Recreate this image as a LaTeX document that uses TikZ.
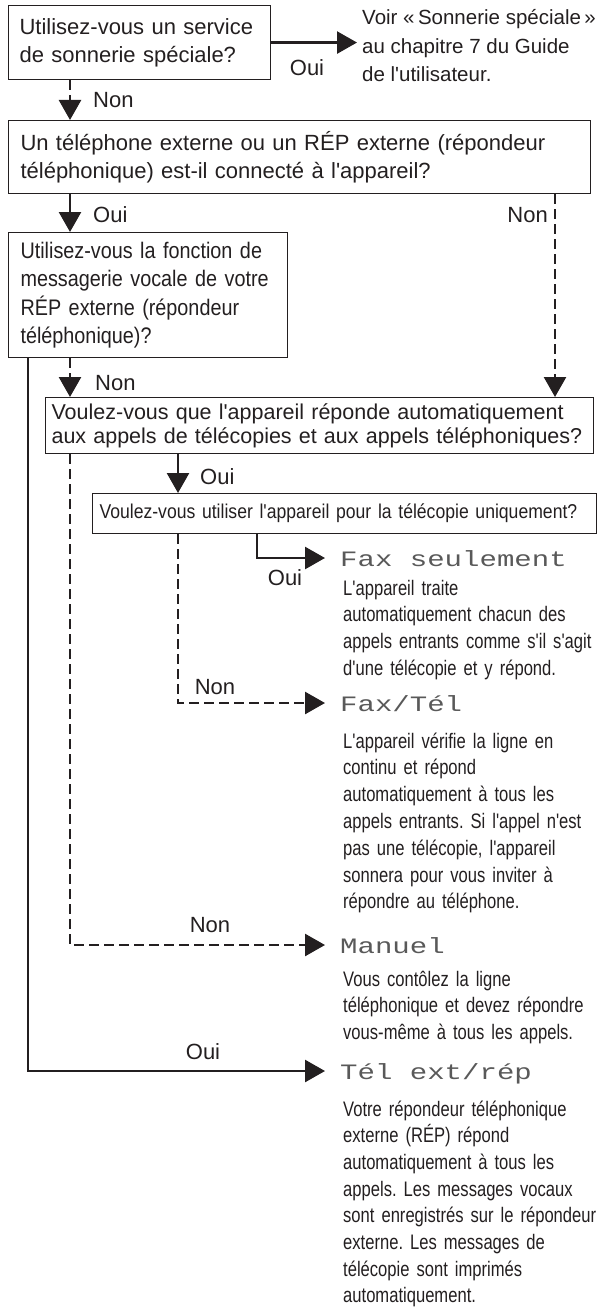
\documentclass[tikz,border=0pt]{standalone}
\usepackage{fontspec}
\setmainfont{Liberation Sans}[Ligatures=TeXOff]
\newfontfamily\narrowsf{Liberation Sans}[FakeStretch=0.79,Ligatures=TeXOff]
\newfontfamily\condsf{Liberation Sans}[FakeStretch=0.88,Ligatures=TeXOff]
\newfontfamily\lcdfont{Liberation Mono}[FakeStretch=1.32]
\usetikzlibrary{arrows.meta, positioning}
\definecolor{ink}{HTML}{231F20}
\frenchspacing

\begin{document}
\begin{tikzpicture}[x=1pt, y=-1pt, >={Triangle[length=20pt,width=22pt]},
    box/.style={draw=ink, line width=1.1pt, anchor=north west, align=left, inner xsep=12pt, text=ink},
    txt/.style={font=\fontsize{22}{28}\selectfont},
    lbl/.style={text=ink, inner sep=0pt, font=\fontsize{22}{26}\selectfont},
    oui/.style={draw=ink, line width=2.6pt, ->},
    non/.style={draw=ink, line width=2.6pt, ->, dash pattern=on 10pt off 5pt},
    mode/.style={anchor=west, inner xsep=15pt, inner ysep=0pt, text height=16pt, text depth=0pt,
        text=black!65, font=\lcdfont\fontsize{22}{26}\selectfont},
    note/.style={anchor=base west, align=left, text width=300pt, inner sep=0pt, text=ink,
        font=\narrowsf\fontsize{21}{26.8}\selectfont}]
    \useasboundingbox (0,0) rectangle (600,1308);

    % --- questions ---
    \node[box, txt, inner xsep=11pt, text width=240pt, minimum width=262pt, minimum height=74pt] (q1) at (8,5)
        {Utilisez-vous un service\\de sonnerie spéciale?};
    \node[box, txt, text width=558pt, minimum width=582pt, minimum height=73pt] (q2) at (8,120)
        {Un téléphone externe ou un RÉP externe (répondeur\\téléphonique) est-il connecté à l'appareil?};
    \node[box, font=\condsf\fontsize{22.5}{28.3}\selectfont, text width=255pt, minimum width=279pt,
        minimum height=125pt] (q3) at (8,232)
        {Utilisez-vous la fonction de\\messagerie vocale de votre\\RÉP externe (répondeur\\téléphonique)?};
    \node[box, font=\fontsize{21.5}{24}\selectfont, inner xsep=6pt, text width=536pt, minimum width=548pt,
        minimum height=56pt] (q4) at (45,397)
        {Voulez-vous que l'appareil réponde automatiquement\\aux appels de télécopies et aux appels téléphoniques?};
    \node[box, font=\condsf\fontsize{20}{26}\selectfont, inner xsep=7pt, text width=490pt,
        minimum width=504pt, minimum height=40pt] (q5) at (92,493)
        {Voulez-vous utiliser l'appareil pour la télécopie uniquement?};
    \node[anchor=west, align=left, inner xsep=5pt, inner ysep=0pt, text=ink,
        font=\fontsize{20.5}{28.5}\selectfont] (voir) at (357,46)
        {Voir «\,Sonnerie spéciale\,»\\au chapitre 7 du Guide\\de l'utilisateur.};

    % --- reglages ---
    \node[mode] (fax) at (325,558) {Fax seulement};
    \node[mode] (faxtel) at (325,703) {Fax/Tél};
    \node[mode] (manuel) at (325,945) {Manuel};
    \node[mode] (telrep) at (325,1071) {Tél ext/rép};

    \node[note] (nfax) at (343,595)
        {L'appareil traite\\automatiquement chacun des\\appels entrants comme s'il s'agit\\d'une télécopie et y répond.};
    \node[note] (nfaxtel) at (343,748)
        {L'appareil vérifie la ligne en\\continu et répond\\automatiquement à tous les\\appels entrants. Si l'appel n'est\\pas une télécopie, l'appareil\\sonnera pour vous inviter à\\répondre au téléphone.};
    \node[note] (nmanuel) at (343,986)
        {Vous contôlez la ligne\\téléphonique et devez répondre\\vous-même à tous les appels.};
    \node[note, font=\narrowsf\fontsize{21}{26.7}\selectfont] (ntelrep) at (343,1116)
        {Votre répondeur téléphonique\\externe (RÉP) répond\\automatiquement à tous les\\appels. Les messages vocaux\\sont enregistrés sur le répondeur\\externe. Les messages de\\télécopie sont imprimés\\automatiquement.};

    % --- colonnes des fleches ---
    \coordinate (cL) at (28,0);
    \coordinate (cA) at (70,0);
    \coordinate (cB) at (178,0);
    \coordinate (cC) at (257,0);
    \coordinate (cR) at (555,0);

    % --- fleches ---
    \draw[oui] (q1.east) -- (q1.east -| voir.west);
    \draw[non] (q1.south -| cA) -- (q2.north -| cA);
    \draw[oui] (q2.south -| cA) -- (q3.north -| cA);
    \draw[non] (q2.south -| cR) -- (q4.north -| cR);
    \draw[non] (q3.south -| cA) -- (q4.north -| cA);
    \draw[oui] (q3.south -| cL) |- (telrep.west);
    \draw[oui] (q4.south -| cB) -- (q5.north -| cB);
    \draw[non] (q4.south -| cA) |- (manuel.west);
    \draw[oui] (q5.south -| cC) |- (fax.west);
    \draw[non] (q5.south -| cB) |- (faxtel.west);

    % --- Oui / Non ---
    \node[lbl] (l1) at (307,68) {Oui};
    \node[lbl, anchor=west] (l2) at (93,100) {Non};
    \node[lbl, anchor=west] (l3) at (93,215) {Oui};
    \node[lbl, anchor=east] (l4) at (548,215) {Non};
    \node[lbl, anchor=west] (l5) at (95,383) {Non};
    \node[lbl, anchor=west] (l6) at (200,477) {Oui};
    \node[lbl] (l7) at (285,578) {Oui};
    \node[lbl] (l8) at (215,687) {Non};
    \node[lbl] (l9) at (210,925) {Non};
    \node[lbl] (l10) at (203,1052) {Oui};
\end{tikzpicture}
\end{document}
